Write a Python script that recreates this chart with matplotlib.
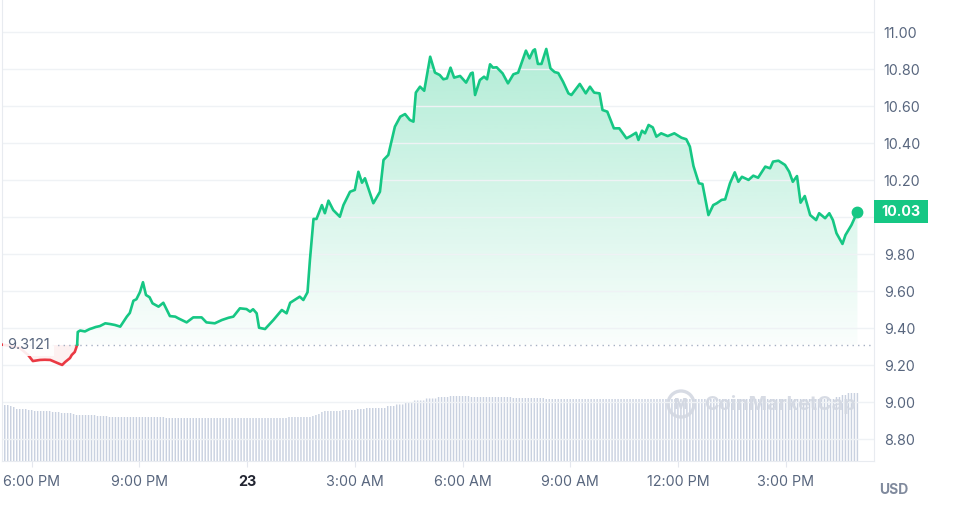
import numpy as np
import matplotlib.pyplot as plt
from matplotlib.patches import Rectangle, Circle

plt.rcParams['font.family'] = ['Inter', 'DejaVu Sans']

# minutes after 17:00 on the 22nd, price in USD
minutes = [10, 24, 40, 54, 62, 74, 82, 91, 99, 107,
           111, 116, 124, 127, 132, 136, 137, 141, 149, 157,
           161, 167, 174, 183, 191, 199, 208, 219, 224, 230,
           235, 241, 246, 251, 257, 262, 272, 280, 291, 300,
           305, 319, 330, 344, 352, 366, 378, 389, 397, 408,
           419, 425, 430, 436, 440, 450, 464, 478, 486, 492,
           508, 514, 521, 525, 528, 531, 536, 545, 550, 556,
           564, 575, 581, 592, 600, 606, 612, 617, 631, 642,
           648, 656, 667, 676, 684, 692, 698, 702, 709, 716,
           726, 734, 742, 748, 754, 760, 766, 776, 786, 794,
           797, 801, 809, 816, 821, 826, 831, 837, 847, 856,
           865, 873, 882, 886, 892, 898, 901, 906, 912, 920,
           927, 934, 940, 948, 957, 962, 976, 986, 993, 1000,
           1009, 1014, 1022, 1033, 1042, 1054, 1061, 1070, 1074, 1080,
           1085, 1091, 1098, 1104, 1112, 1123, 1134, 1146, 1154, 1160,
           1166, 1175, 1181, 1191, 1199, 1205, 1213, 1219, 1227, 1235,
           1241, 1247, 1258, 1266, 1274, 1286, 1294, 1299, 1308, 1319,
           1326, 1332, 1339, 1345, 1352, 1361, 1371, 1376, 1386, 1393,
           1399, 1405, 1415, 1420, 1430, 1440]
prices = [9.312, 9.305, 9.294, 9.256, 9.223, 9.229, 9.230, 9.229, 9.218, 9.207,
          9.202, 9.218, 9.239, 9.256, 9.272, 9.310, 9.380, 9.388, 9.383, 9.396,
          9.400, 9.407, 9.412, 9.427, 9.423, 9.418, 9.409, 9.463, 9.483, 9.549,
          9.557, 9.596, 9.649, 9.580, 9.568, 9.535, 9.517, 9.538, 9.466, 9.463,
          9.454, 9.432, 9.459, 9.459, 9.432, 9.427, 9.445, 9.457, 9.463, 9.508,
          9.504, 9.490, 9.503, 9.481, 9.403, 9.396, 9.445, 9.499, 9.481, 9.538,
          9.571, 9.553, 9.595, 9.769, 9.877, 9.991, 9.991, 10.066, 10.022, 10.090,
          10.039, 10.003, 10.066, 10.138, 10.148, 10.246, 10.187, 10.211, 10.076, 10.138,
          10.310, 10.337, 10.490, 10.544, 10.558, 10.526, 10.517, 10.674, 10.706, 10.684,
          10.868, 10.782, 10.769, 10.746, 10.751, 10.809, 10.755, 10.764, 10.728, 10.778,
          10.782, 10.661, 10.742, 10.760, 10.746, 10.827, 10.809, 10.811, 10.778, 10.724,
          10.773, 10.782, 10.865, 10.901, 10.859, 10.901, 10.908, 10.829, 10.829, 10.910,
          10.805, 10.785, 10.780, 10.733, 10.670, 10.661, 10.721, 10.670, 10.706, 10.674,
          10.670, 10.580, 10.571, 10.481, 10.481, 10.427, 10.439, 10.457, 10.418, 10.468,
          10.454, 10.499, 10.486, 10.436, 10.454, 10.439, 10.454, 10.430, 10.422, 10.382,
          10.277, 10.184, 10.180, 10.012, 10.066, 10.076, 10.094, 10.097, 10.184, 10.243,
          10.192, 10.219, 10.202, 10.225, 10.214, 10.274, 10.265, 10.301, 10.306, 10.283,
          10.246, 10.192, 10.223, 10.079, 10.115, 10.012, 9.985, 10.022, 9.995, 10.022,
          9.985, 9.914, 9.856, 9.904, 9.958, 10.030]
open_price = 9.3121

# rolling volume, one bar every 5 minutes from 17:10, stored as level / run length
vol_levels = [56, 55, 54, 52, 51, 50, 49, 48, 47, 46, 45, 44, 43, 44, 45, 46, 47, 49,
              50, 51, 52, 53, 55, 56.5, 58, 60.5, 62.5, 64, 65, 64, 63, 62, 64, 66, 68]
vol_counts = [3, 1, 1, 4, 2, 6, 3, 4, 1, 7, 4, 19, 41, 8, 1, 1, 1, 1,
              6, 5, 3, 7, 3, 3, 3, 4, 4, 4, 7, 14, 11, 97, 2, 2, 4]

tick_minutes = [60, 240, 420, 600, 780, 960, 1140, 1320]
tick_labels = ['6:00 PM', '9:00 PM', '23', '3:00 AM', '6:00 AM', '9:00 AM', '12:00 PM', '3:00 PM']
price_ticks = [8.8, 9.0, 9.2, 9.4, 9.6, 9.8, 10.0, 10.2, 10.4, 10.6, 10.8, 11.0]

GREEN = '#16c784'
RED = '#ea3943'
GREY = '#58667e'
GRID = '#eff2f5'

fig = plt.figure(figsize=(9.8, 5.08), dpi=100)
ax = fig.add_axes([2 / 980, 47 / 508, 872 / 980, 461 / 508])
axv = ax.twinx()
ax.set_zorder(2)
axv.set_zorder(1)
ax.patch.set_visible(False)

# volume bars
vol = np.repeat(vol_levels, vol_counts)
vol_t = 10 + 5 * np.arange(len(vol))
axv.bar(vol_t, vol, width=2.4, color='#c9d1e0', linewidth=0, snap=False)
axv.set_ylim(0, 461)
axv.set_yticks([])
for s in axv.spines.values():
    s.set_visible(False)

t = np.array(minutes, float)
p = np.array(prices)
i = int(np.argmax(p > open_price))
tc = np.interp(open_price, [p[i - 1], p[i]], [t[i - 1], t[i]])
t_red = np.r_[t[:i], tc]
p_red = np.r_[p[:i], open_price]
t_grn = np.r_[tc, t[i:]]
p_grn = np.r_[open_price, p[i:]]

xlim = (10.4, 1467.7)
ylim = (8.6827, 11.1746)

# gradient fills down to the open price
poly = ax.fill_between(t_grn, p_grn, open_price, color='none', lw=0)
grad = np.ones((256, 1, 4))
grad[:, 0, :3] = [22 / 255, 199 / 255, 132 / 255]
grad[:, 0, 3] = np.linspace(0.33, 0.02, 256)
img = ax.imshow(grad, extent=[t_grn[0], t_grn[-1], open_price, p.max()],
                aspect='auto', origin='upper', zorder=1)
img.set_clip_path(poly.get_paths()[0], ax.transData)
ax.fill_between(t_red, p_red, open_price, color=RED, alpha=0.07, lw=0)

ax.plot(t_red, p_red, color=RED, lw=1.9, solid_capstyle='round', zorder=3)
ax.plot(t_grn, p_grn, color=GREEN, lw=1.9, solid_joinstyle='round', zorder=3)
ax.plot(t[-1], p[-1], 'o', ms=7.5, color=GREEN, zorder=4, clip_on=False)

ax.axhline(open_price, color='#a6b0c3', lw=1, ls=(0, (1, 3)), zorder=2)
ax.text((7 - 2) / 872, open_price, '9.3121', transform=ax.get_yaxis_transform(),
        ha='left', va='center', fontsize=10.5, color=GREY, zorder=5,
        bbox=dict(boxstyle='square,pad=0.3', fc='white', ec='none', alpha=0.9))

ax.set_xlim(*xlim)
ax.set_ylim(*ylim)
ax.yaxis.tick_right()
ax.set_yticks(price_ticks)
# the 10.00 label sits under the current price tag
ax.set_yticklabels(['' if abs(v - 10.0) < 1e-9 else f'{v:.2f}' for v in price_ticks])
ax.grid(axis='y', color=GRID, lw=1)
ax.tick_params(axis='y', length=0, pad=7, labelsize=10.3, labelcolor=GREY)
ax.set_xticks(tick_minutes)
ax.set_xticklabels(tick_labels)
ax.tick_params(axis='x', length=4, color='#e4e7ee', pad=6, labelsize=10.3, labelcolor=GREY)
for lab in ax.get_xticklabels():
    if lab.get_text() == '23':
        lab.set_fontweight('bold')
        lab.set_color('#222531')

for side in ['left', 'right', 'bottom']:
    ax.spines[side].set_color('#e8ebf0')
ax.spines['top'].set_visible(False)

# current price tag
ytr = ax.get_yaxis_transform()
ax.add_patch(Rectangle((1.0, p[-1] - 11.5 / 185), 54 / 872, 23 / 185, transform=ytr,
                       fc=GREEN, ec='none', clip_on=False, zorder=5))
ax.text(1.0 + 27 / 872, p[-1], f'{p[-1]:.2f}', transform=ytr, ha='center', va='center',
        color='white', fontsize=10.3, fontweight='bold', zorder=6)

fig.text(894 / 980, 1 - 490 / 508, 'USD', ha='center', va='center',
         fontsize=10, fontweight='bold', color='#808a9d')

# watermark
wm = '#d3d8e2'
fig.patches.append(Circle((6.81, 5.08 - 4.04), 0.13, transform=fig.dpi_scale_trans,
                          fc='none', ec=wm, lw=2.4, alpha=0.9))
fig.text(681 / 980, 1 - 405 / 508, 'M', ha='center', va='center', fontsize=10.5,
         fontweight='bold', color=wm)
fig.text(704 / 980, 1 - 405 / 508, 'CoinMarketCap', ha='left', va='center',
         fontsize=14.3, fontweight='bold', color=wm, alpha=0.9)

fig.savefig('out.png', dpi=100)
